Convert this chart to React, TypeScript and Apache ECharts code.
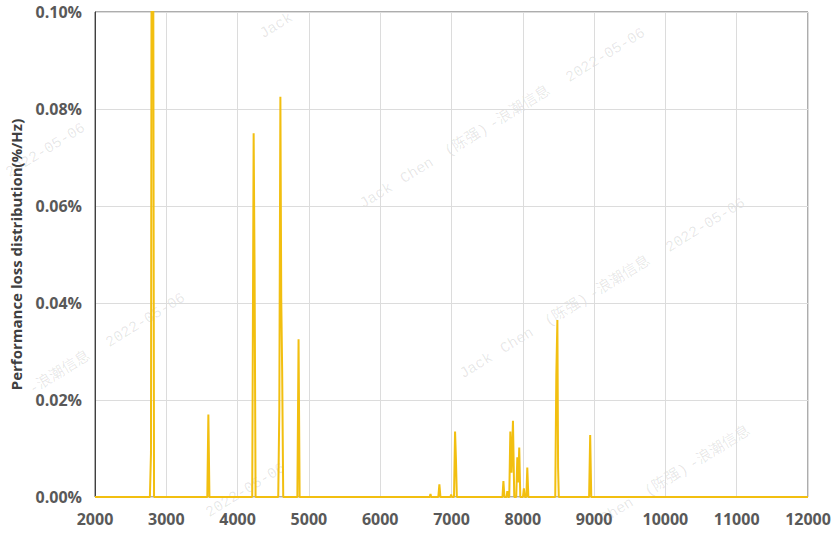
import React, { useEffect, useRef } from "react";
import * as echarts from "echarts";

// Frequency (Hz) and performance-loss (%/Hz) samples
const freqHz: number[] = [
  2000, 2770, 2785, 2795, 2815, 2828,
  3575, 3590, 3605,
  4205, 4225, 4238, 4252,
  4570, 4585, 4600, 4612, 4625, 4640,
  4838, 4855, 4870,
  6695, 6705, 6715,
  6815, 6830, 6845,
  6985, 6995, 7005,
  7035, 7050, 7062, 7075,
  7715, 7728, 7742,
  7772, 7783, 7795,
  7810, 7825, 7842, 7862, 7880,
  7908, 7923, 7936, 7950, 7965,
  8002, 8015, 8028,
  8050, 8063, 8078,
  8455, 8470, 8485, 8495, 8505,
  8930, 8945, 8960,
  12000,
];
const lossPct: number[] = [
  0, 0, 0.009, 0.13, 0.13, 0,
  0, 0.017, 0,
  0, 0.075, 0.047, 0,
  0, 0.018, 0.0825, 0.041, 0.026, 0,
  0, 0.0325, 0,
  0, 0.0006, 0,
  0, 0.0026, 0,
  0, 0.0005, 0,
  0, 0.0135, 0.008, 0,
  0, 0.0033, 0,
  0, 0.0012, 0,
  0, 0.0135, 0.005, 0.0157, 0,
  0, 0.0082, 0.003, 0.0102, 0,
  0, 0.0018, 0,
  0, 0.0061, 0,
  0, 0.025, 0.0365, 0.006, 0,
  0, 0.0128, 0,
  0,
];

const xTicks = { min: 2000, max: 12000, interval: 1000 };
const yTicks = { min: 0, max: 0.1, interval: 0.02 };
const yAxisTitle = "Performance loss distribution(%/Hz)";
// watermark words and their offsets along the watermark line (px)
const watermarkWords: string[] = ["Jack", "Chen", "(陈强)", "-浪潮信息", "2022-05-06"];
const watermarkOffsets: number[] = [0, 48, 100, 152, 242];

export default function App() {
  const ref = useRef<HTMLDivElement>(null);
  useEffect(() => {
    if (!ref.current) return;
    const chart = echarts.init(ref.current, null, { renderer: "svg" });

    const theta = (31.5 * Math.PI) / 180;
    const dx = Math.cos(theta), dy = -Math.sin(theta);
    const font = "15px 'Liberation Mono', 'Noto Sans CJK SC', monospace";
    const base = [465, 382];
    const v1 = [100, 170];
    const v2 = [-560, 95];
    const marks: any[] = [];
    const inside = (x: number, y: number) => x >= 1 && x <= 838 && y >= 1 && y <= 533;
    for (let i = -3; i <= 2; i++) {
      for (let j = -1; j <= 1; j++) {
        const ox = base[0] + i * v1[0] + j * v2[0];
        const oy = base[1] + i * v1[1] + j * v2[1];
        watermarkWords.forEach((w, k) => {
          const s = watermarkOffsets[k];
          const len = echarts.format.getTextRect
            ? (echarts.format as any).getTextRect?.(w, font)?.width ?? w.length * 10
            : w.length * 10;
          const wlen = typeof len === "number" ? len : w.length * 10;
          const x0 = ox + s * dx, y0 = oy + s * dy;
          const x1 = x0 + wlen * dx, y1 = y0 + wlen * dy;
          const h = 14;
          const px = -Math.sin(theta) * h, py = -Math.cos(theta) * h;
          if (
            !inside(x0, y0) || !inside(x1, y1) ||
            !inside(x0 + px, y0 + py) || !inside(x1 + px, y1 + py)
          ) return;
          marks.push({
            type: "text",
            x: x0,
            y: y0,
            rotation: theta,
            z: -10,
            silent: true,
            style: {
              text: w,
              font,
              fill: "rgba(0,0,0,0.10)",
              textAlign: "left",
              verticalAlign: "bottom",
            },
          });
        });
      }
    }

    const data = freqHz.map((f, i) => [f, lossPct[i]]);

    chart.setOption({
      animation: false,
      backgroundColor: "#ffffff",
      textStyle: { fontFamily: "'Open Sans', sans-serif" },
      grid: {
        left: 91,
        right: 31,
        top: 12,
        bottom: 37,
        show: true,
        borderColor: "#5a5a5a",
        borderWidth: 1,
        backgroundColor: "transparent",
      },
      graphic: marks,
      xAxis: {
        type: "value",
        min: xTicks.min,
        max: xTicks.max,
        interval: xTicks.interval,
        axisLine: { show: false },
        axisTick: { show: false },
        axisLabel: {
          color: "#595959",
          fontSize: 16,
          fontWeight: "bold",
          margin: 14,
          fontFamily: "'Open Sans', sans-serif",
          formatter: (v: number) => String(v),
        },
        splitLine: { show: true, lineStyle: { color: "#dcdcdc", width: 1 } },
      },
      yAxis: {
        type: "value",
        min: yTicks.min,
        max: yTicks.max,
        interval: yTicks.interval,
        name: yAxisTitle,
        nameLocation: "middle",
        nameGap: 72,
        nameTextStyle: {
          color: "#404040",
          fontSize: 15,
          fontWeight: "bold",
          fontFamily: "'Open Sans', sans-serif",
        },
        axisLine: { show: true, lineStyle: { color: "#404040", width: 1 } },
        axisTick: { show: false },
        axisLabel: {
          color: "#595959",
          fontSize: 16,
          fontWeight: "bold",
          margin: 13,
          fontFamily: "'Open Sans', sans-serif",
          formatter: (v: number) => v.toFixed(2) + "%",
        },
        splitLine: { show: true, lineStyle: { color: "#dcdcdc", width: 1 } },
      },
      series: [
        {
          type: "line",
          data,
          clip: true,
          symbol: "none",
          lineStyle: { color: "#F2BF10", width: 2 },
          z: 5,
        },
      ],
    });
    return () => chart.dispose();
  }, []);
  return (
    <div
      ref={ref}
      style={{ position: "fixed", left: 0, top: 0, width: 839, height: 534 }}
    />
  );
}
